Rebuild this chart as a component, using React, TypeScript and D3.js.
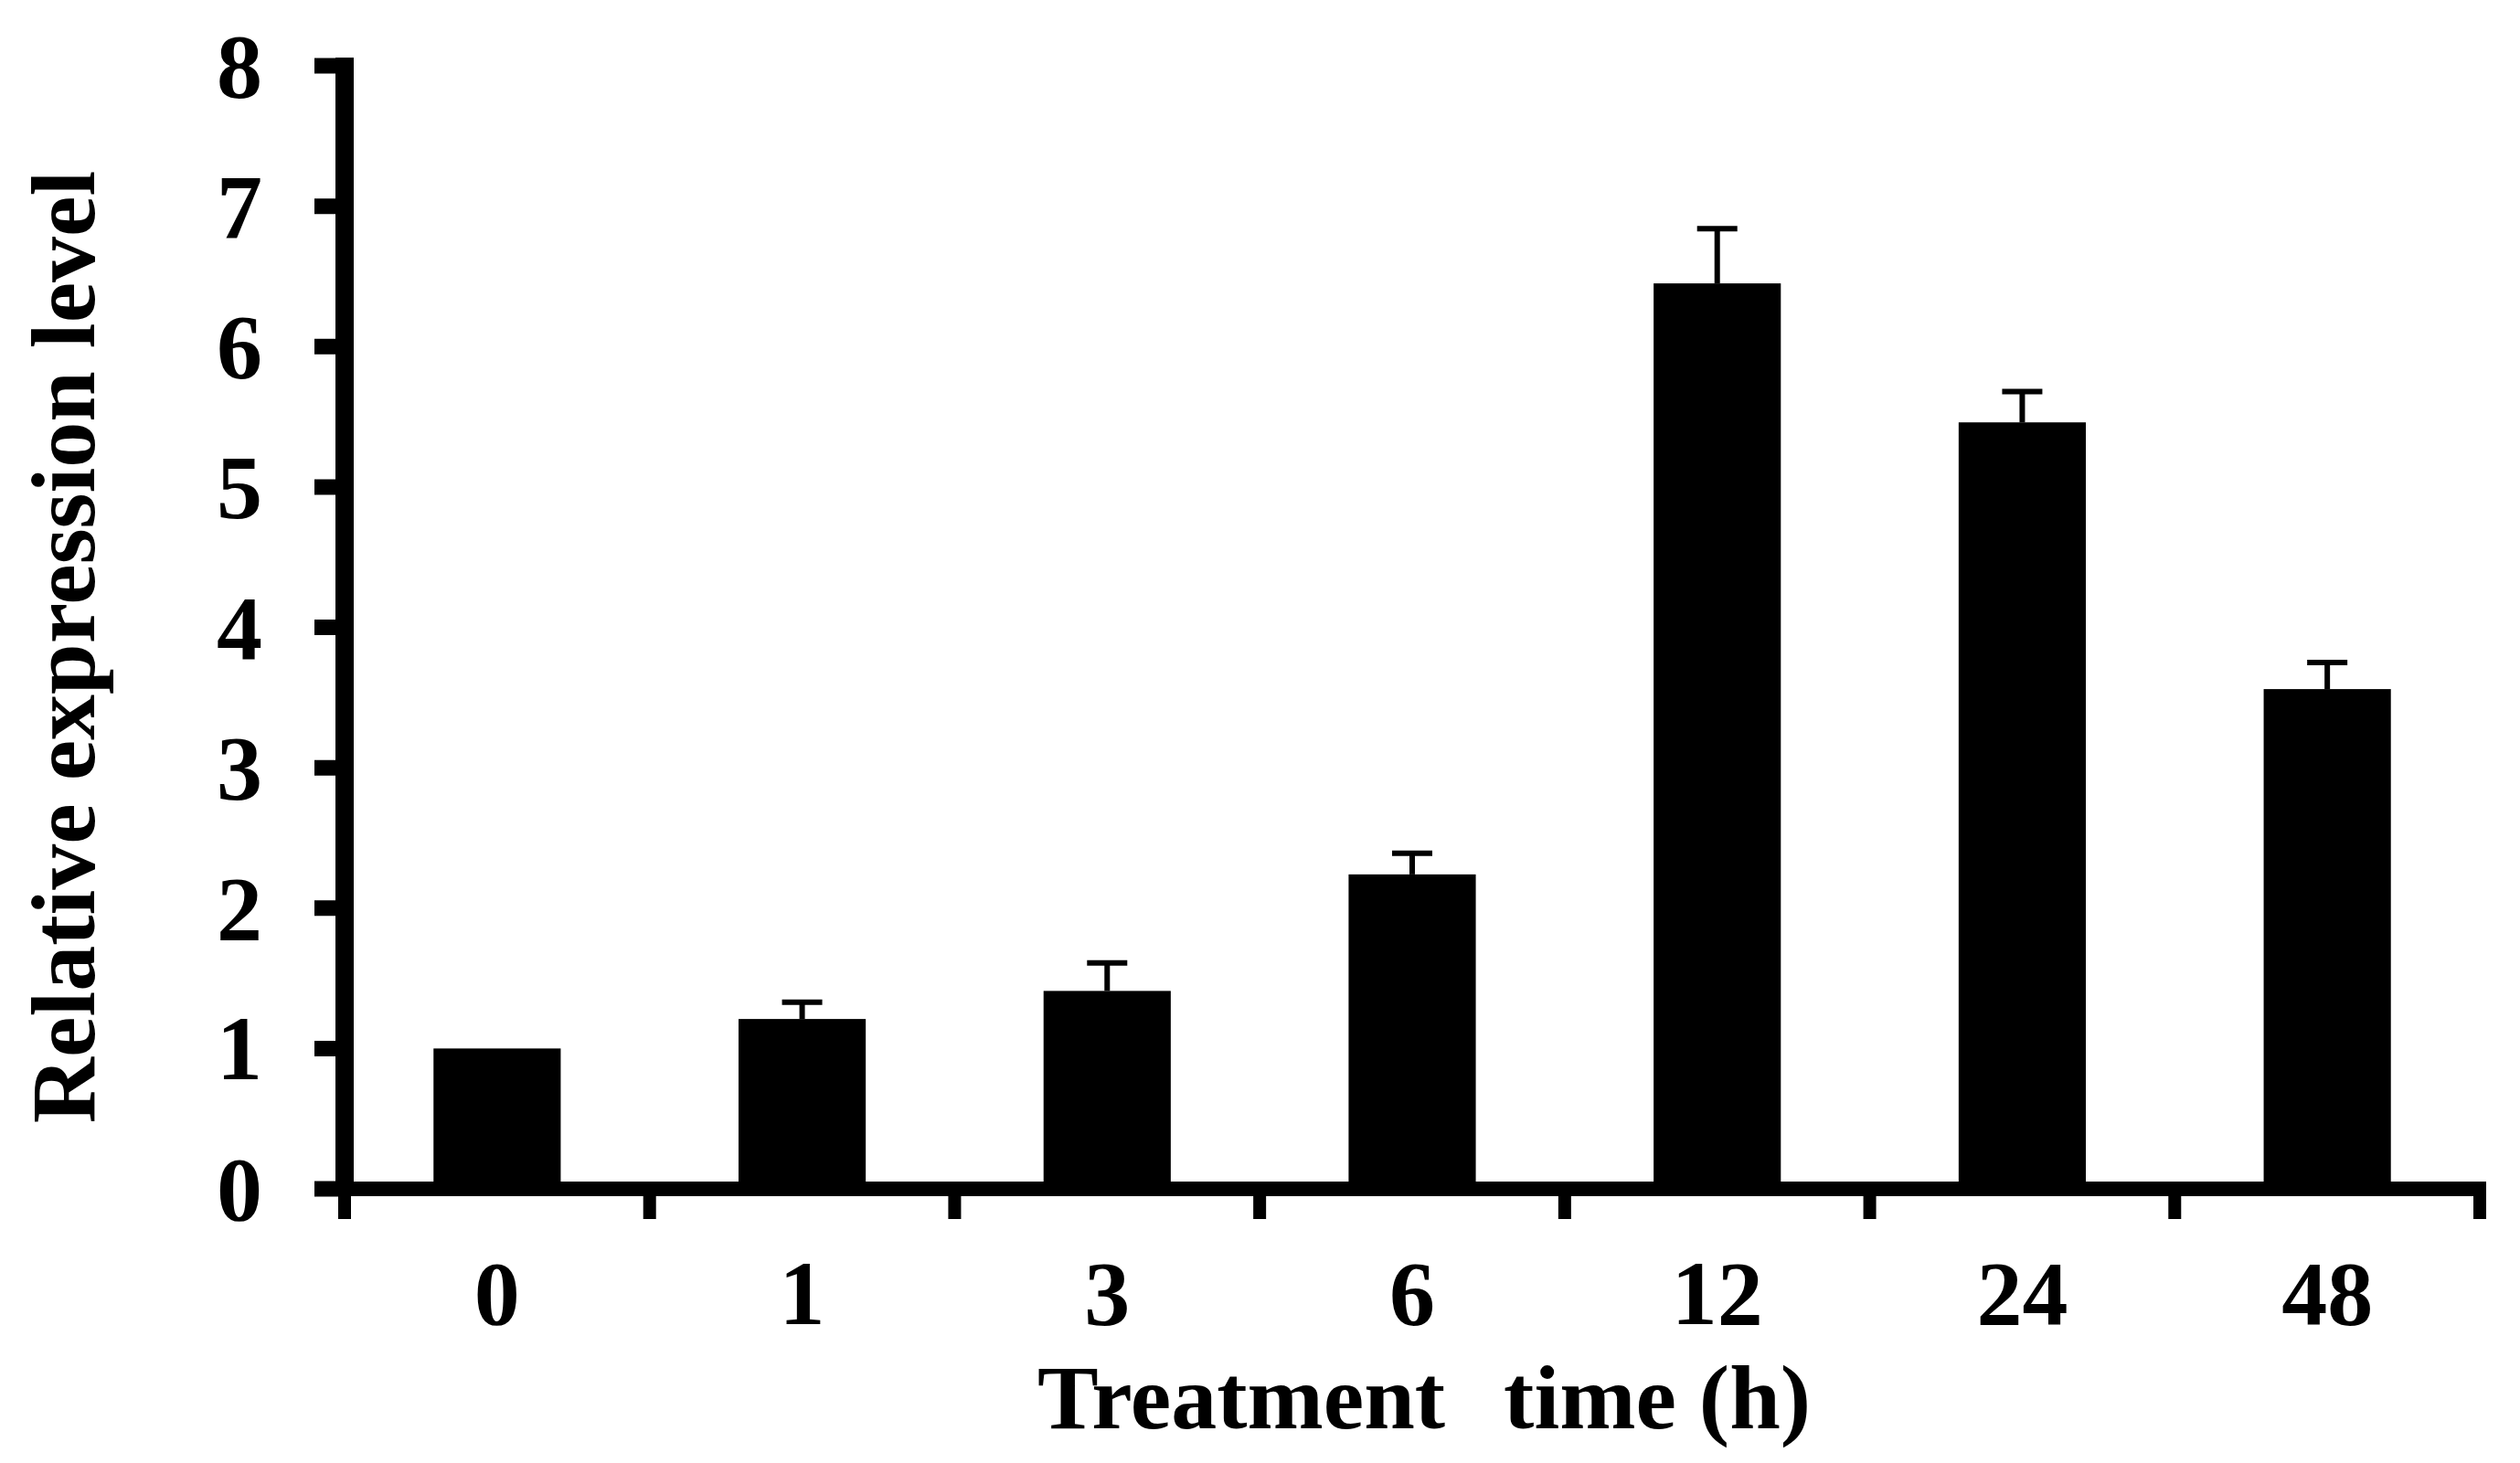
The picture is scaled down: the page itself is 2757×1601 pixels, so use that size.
import { useEffect, useRef } from "react";
import * as d3 from "d3";

const categories = ["0", "1", "3", "6", "12", "24", "48"];
const values = [1.0, 1.21, 1.41, 2.24, 6.45, 5.46, 3.56];
const errors = [0, 0.12, 0.2, 0.15, 0.39, 0.22, 0.19];
const yTicks = [0, 1, 2, 3, 4, 5, 6, 7, 8];

const W = 2757;
const H = 1601;
const FONT = "'Liberation Serif', 'Times New Roman', serif";

export default function App() {
  const svgRef = useRef<SVGSVGElement>(null);

  useEffect(() => {
    if (!svgRef.current) return;
    const svg = d3.select(svgRef.current);
    svg.selectAll("*").remove();

    const x0 = 377;
    const x1 = 2713;
    const x = d3
      .scaleBand<string>()
      .domain(categories)
      .range([x0, x1])
      .paddingInner(0.583)
      .paddingOuter(0.2915);
    const y = d3.scaleLinear().domain([0, 8]).range([1301, 72]);

    const step = x.step();
    const g = svg.append("g");

    // bars
    g.selectAll("rect.bar")
      .data(categories)
      .join("rect")
      .attr("class", "bar")
      .attr("x", (d) => x(d)!)
      .attr("width", x.bandwidth())
      .attr("y", (_, i) => y(values[i]))
      .attr("height", (_, i) => y(0) - y(values[i]))
      .attr("fill", "#000");

    // error bars (upper only)
    const top = (d: string) => {
      const i = categories.indexOf(d);
      return y(values[i] + errors[i]);
    };
    const cx = (d: string) => x(d)! + x.bandwidth() / 2;
    const eb = g
      .selectAll("g.err")
      .data(categories.filter((_, i) => errors[i] > 0))
      .join("g")
      .attr("class", "err");
    eb.append("line")
      .attr("x1", cx)
      .attr("x2", cx)
      .attr("y1", (d) => y(values[categories.indexOf(d)]))
      .attr("y2", top)
      .attr("stroke", "#000")
      .attr("stroke-width", 6);
    eb.append("line")
      .attr("x1", (d) => cx(d) - 22)
      .attr("x2", (d) => cx(d) + 22)
      .attr("y1", top)
      .attr("y2", top)
      .attr("stroke", "#000")
      .attr("stroke-width", 6);

    // y axis
    g.append("line")
      .attr("x1", x0)
      .attr("x2", x0)
      .attr("y1", y(8) - 9)
      .attr("y2", y(0) + 8)
      .attr("stroke", "#000")
      .attr("stroke-width", 20);
    g.selectAll("line.ytick")
      .data(yTicks)
      .join("line")
      .attr("class", "ytick")
      .attr("x1", x0 - 33)
      .attr("x2", x0)
      .attr("y1", (d) => y(d))
      .attr("y2", (d) => y(d))
      .attr("stroke", "#000")
      .attr("stroke-width", 17);
    g.selectAll("text.ylab")
      .data(yTicks)
      .join("text")
      .attr("class", "ylab")
      .attr("x", 287)
      .attr("y", (d) => y(d))
      .attr("dy", "0.34em")
      .attr("text-anchor", "end")
      .attr("font-family", FONT)
      .attr("font-weight", "bold")
      .attr("font-size", 100)
      .text((d) => d);

    // x axis
    g.append("line")
      .attr("x1", x0 - 10)
      .attr("x2", x1 + 7)
      .attr("y1", y(0))
      .attr("y2", y(0))
      .attr("stroke", "#000")
      .attr("stroke-width", 16);
    g.selectAll("line.xtick")
      .data(d3.range(categories.length + 1))
      .join("line")
      .attr("class", "xtick")
      .attr("x1", (i) => x0 + i * step)
      .attr("x2", (i) => x0 + i * step)
      .attr("y1", y(0))
      .attr("y2", y(0) + 33)
      .attr("stroke", "#000")
      .attr("stroke-width", 14);
    g.selectAll("text.xlab")
      .data(categories)
      .join("text")
      .attr("class", "xlab")
      .attr("x", cx)
      .attr("y", 1449)
      .attr("text-anchor", "middle")
      .attr("font-family", FONT)
      .attr("font-weight", "bold")
      .attr("font-size", 100)
      .text((d) => d);

    // titles
    const xt = g
      .append("text")
      .attr("x", 1558)
      .attr("y", 1563)
      .attr("text-anchor", "middle")
      .attr("font-family", FONT)
      .attr("font-weight", "bold")
      .attr("font-size", 100);
    xt.append("tspan").text("Treatment");
    xt.append("tspan").attr("dx", 64).text("time (h)");
    g.append("text")
      .attr("transform", "translate(103,708) rotate(-90)")
      .attr("text-anchor", "middle")
      .attr("font-family", FONT)
      .attr("font-weight", "bold")
      .attr("font-size", 100)
      .text("Relative expression level");
  }, []);

  return (
    <svg
      ref={svgRef}
      width={W}
      height={H}
      style={{ position: "absolute", left: 0, top: 0, background: "#fff" }}
    />
  );
}
